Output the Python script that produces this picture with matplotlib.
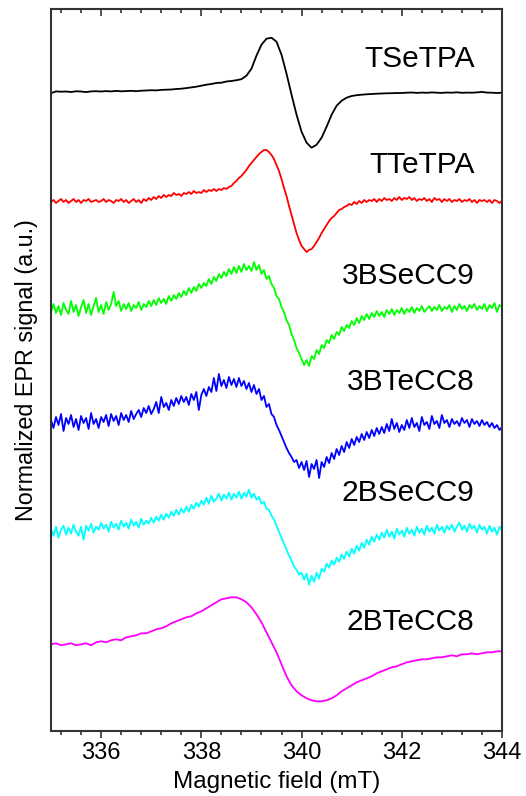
import numpy as np
import matplotlib
matplotlib.use("Agg")
import matplotlib.pyplot as plt
from matplotlib.ticker import MultipleLocator

plt.rcParams['font.family'] = ['Liberation Sans', 'DejaVu Sans']

# ---------------- data (EPR derivative signals, arbitrary units) ----------------
field_min, field_max = 335.0, 344.0

tsetpa = [-1.5, 0.3, 0.0, 0.2, -0.3, 0.4, 0.2, -0.4, 0.3, 0.5,
          0.2, 0.6, 0.3, 0.8, 0.4, 0.6, 0.9, 0.5, 1.0, 1.2,
          1.5, 1.3, 1.8, 2.0, 2.2, 2.7, 3.0, 3.6, 4.3, 5.0,
          6.0, 7.0, 7.7, 8.7, 9.0, 10.2, 10.7, 11.5, 12.5, 16,
          23, 36, 47, 53, 54, 50, 37, 18, -3, -23,
          -40, -51, -56, -53, -46, -35, -23, -14, -9, -6,
          -4.3, -3.5, -3.0, -2.6, -2.3, -2.0, -1.8, -1.6, -1.5, -1.3,
          -1.3, -1.0, -0.8, -1.2, -0.9, -1.1, -0.7, -1.0, -1.2, -0.8,
          -1.0, -0.6, -1.1, -0.9, -1.0, -0.7, -0.2, -0.9, -1.0, -1.3, -1.0]

ttetpa = [-1, 1, -2, 0, 2, -1, 1, -2, 0, 2, -1, 1, -2, 1, 0, 2, -1, 0, 1, -1,
          0, 2, -1, 1, 0, -2, 1, 0, 2, -1, 1, -2, 0, 2, -1, 1, -2, 2, 0, 3,
          1, 4, 2, 5, 3, 6, 4, 6, 5, 8, 6, 7, 5, 8, 7, 9, 7, 10, 8, 9,
          8, 11, 9, 11, 10, 12, 10, 12, 11, 13, 12, 14, 15, 18, 20, 23, 25, 28, 31, 35,
          38, 41, 44, 47, 49, 51, 51, 49, 46, 42, 36, 30, 22, 13, 5, -5, -14, -23, -32, -39,
          -45, -48, -51, -49, -48, -45, -41, -37, -32, -28, -24, -20, -17, -15, -12, -9, -8, -6, -5, -3,
          -4, -1, -3, 0, -2, 1, -1, 1, 0, 2, -1, 2, 0, 3, 1, 2, 0, 3, 1, 4,
          1, 3, 2, 4, 1, 3, 0, 2, 1, 3, 0, 2, -1, 3, 1, 2, -1, 2, 0, 2,
          -1, 1, 0, 2, -1, 1, 0, 2, -1, 1, -2, 1, 0, 1, -1, 1, -2, 1, 0, -2, 0]

bsecc9_3 = [-2, 6, -3, 4, -5, 7, 0, -4, 9, -2, 5, -6, 3, 10, -3, 6, -5, 4, 12, -2,
            5, -4, 8, 0, 6, 18, 4, 9, -1, 6, 1, 7, -1, 5, 2, 8, 0, 6, 3, 9,
            4, 10, 5, 12, 7, 11, 6, 14, 9, 15, 11, 17, 13, 19, 15, 22, 17, 23, 19, 26,
            22, 27, 24, 31, 26, 33, 29, 36, 32, 38, 34, 41, 36, 43, 37, 44, 38, 46, 40, 44,
            39, 48, 40, 45, 36, 40, 31, 34, 26, 22, 14, 11, 3, -2, -10, -15, -24, -30, -38, -43,
            -49, -55, -50, -56, -46, -49, -40, -44, -35, -38, -30, -33, -25, -29, -22, -25, -17, -21, -15, -18,
            -11, -15, -8, -13, -6, -10, -4, -9, -3, -7, -1, -6, -2, -7, 0, -4, 1, -5, 0, -3,
            2, -4, 1, -2, 3, -3, 2, -1, 4, -2, 1, 4, -1, 3, 0, 5, -1, 3, 1, 5,
            -2, 4, 0, 6, 1, 4, -1, 5, 2, 6, 0, 4, 1, 6, -1, 5, 2, 7, -2, 5, 3]

btecc8_3 = [2, -6, 5, -3, 8, -9, 4, -2, 7, -5, 3, -8, 6, -1, 4, -7, 9, -2, 3, -6,
            5, 0, 7, -4, 8, 1, 6, -3, 9, 2, 7, 0, 11, 3, 8, 12, 5, 14, 9, 16,
            8, 13, 20, 9, 25, 15, 19, 12, 22, 16, 24, 18, 26, 20, 25, 17, 28, 22, 30, 12,
            27, 33, 26, 35, 30, 44, 31, 48, 36, 42, 34, 45, 37, 43, 35, 44, 36, 41, 33, 39,
            30, 37, 28, 33, 22, 26, 15, 18, 8, 5, -3, -8, -14, -20, -26, -31, -35, -40, -38, -46,
            -40, -48, -39, -55, -42, -47, -38, -56, -40, -45, -35, -41, -31, -37, -27, -33, -24, -30, -20, -26,
            -17, -23, -15, -20, -12, -18, -10, -16, -8, -14, -6, -12, -5, -11, -2, -9, 3, -7, -1, -10,
            -3, -8, 2, -6, 4, -5, -1, -9, 5, -3, 0, -7, 6, -2, 1, -6, 7, -1, 2, -5,
            3, -2, 1, -4, 4, -1, 2, -5, 3, -2, 1, -4, 2, -3, 0, -5, -1, -6, -3, -8, -5]

bsecc9_2 = [3, -4, 5, -6, 2, 6, -3, 4, -2, 7, 0, -4, 5, -8, 6, 1, 8, -1, 5, 2,
            9, 3, 7, 0, 10, 4, 8, 2, 11, 5, 9, 3, 12, 6, 10, 4, 13, 7, 11, 8,
            14, 9, 15, 11, 17, 12, 18, 14, 20, 16, 22, 17, 23, 19, 25, 20, 27, 23, 29, 25,
            31, 27, 34, 28, 36, 30, 33, 38, 31, 37, 33, 39, 32, 38, 34, 40, 33, 39, 35, 42,
            34, 38, 32, 35, 28, 30, 23, 22, 16, 12, 6, 0, -6, -12, -18, -24, -29, -35, -38, -43,
            -41, -48, -42, -53, -44, -50, -41, -47, -37, -40, -32, -36, -29, -33, -26, -30, -23, -27, -20, -25,
            -17, -22, -14, -19, -11, -16, -8, -13, -5, -10, -3, -8, -1, -6, 2, -5, 0, -7, 3, -3,
            1, -5, 4, -2, 2, -4, 5, -1, 3, -3, 6, 0, 4, -2, 7, 1, 5, -1, 6, 2,
            7, 0, 5, 9, 2, 6, 0, 8, 3, 6, -1, 7, 2, 5, -2, 6, 0, 4, -3, 5, 1]

btecc8_2 = [0, 1, -1, 0, 1, -1, 0, 1, -1, 2,
            3, 2, 4, 5, 4, 7, 8, 9, 11, 11,
            13, 15, 16, 18, 21, 23, 25, 27, 28, 31,
            33, 36, 39, 42, 45, 46, 47, 47, 45, 42,
            37, 30, 22, 12, 2, -8, -20, -32, -41, -47,
            -51, -54, -56, -57, -57, -56, -54, -51, -47, -44,
            -41, -38, -36, -34, -32, -29, -27, -25, -23, -22,
            -20, -18, -17, -16, -15, -15, -14, -13, -13, -12,
            -11, -12, -10, -10, -9, -10, -9, -8, -8, -7, -7]

samples = ["TSeTPA", "TTeTPA", "3BSeCC9", "3BTeCC8", "2BSeCC9", "2BTeCC8"]
signals = [tsetpa, ttetpa, bsecc9_3, btecc8_3, bsecc9_2, btecc8_2]

# ---------------- styling / layout ----------------
colors = ["#000000", "#ff0000", "#00ff00", "#0000ff", "#00ffff", "#ff00ff"]
baselines = [91.7, 201, 310, 422, 531.7, 644.3]      # vertical stacking (a.u.)
label_y = [59, 165, 276, 382, 493, 622]

fig = plt.figure(figsize=(5.26, 7.96), dpi=100)
ax = fig.add_axes([51/526, 65/796, 451/526, 722/796])

for sig, col, base in zip(signals, colors, baselines):
    v = np.asarray(sig, dtype=float)
    x = np.linspace(field_min, field_max, len(v))
    ax.plot(x, v - base, color=col, lw=1.3, solid_joinstyle='round')

for name, ly in zip(samples, label_y):
    ax.text(343.45, -ly, name, ha='right', va='center', fontsize=21.5, color='black')

ax.set_xlim(field_min, field_max)
ax.set_ylim(-731, -9)
ax.set_yticks([])
ax.xaxis.set_major_locator(MultipleLocator(2))
ax.xaxis.set_minor_locator(MultipleLocator(0.4))
ax.tick_params(axis='x', which='major', direction='out', length=5, width=1.2,
               labelsize=17, colors='#333333', labelcolor='black', pad=3)
ax.tick_params(axis='x', which='minor', direction='out', length=3, width=1.2, colors='#333333')

top = ax.secondary_xaxis('top')
top.xaxis.set_major_locator(MultipleLocator(2))
top.xaxis.set_minor_locator(MultipleLocator(0.4))
top.tick_params(axis='x', which='major', direction='in', length=5, width=1.2,
                labeltop=False, colors='#333333')
top.tick_params(axis='x', which='minor', direction='in', length=3, width=1.2, colors='#333333')
top.spines['top'].set_visible(False)

for s in ax.spines.values():
    s.set_linewidth(1.5)
    s.set_color('#333333')

ax.set_xlabel("Magnetic field (mT)", fontsize=17.5, labelpad=5)
ax.set_ylabel("Normalized EPR signal (a.u.)", fontsize=16.8, labelpad=9)

fig.savefig("out.png", dpi=100, facecolor='white')
